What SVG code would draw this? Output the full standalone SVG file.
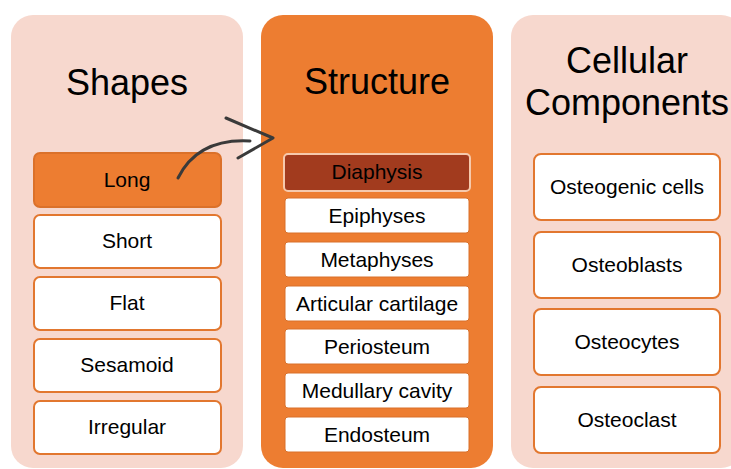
<svg xmlns="http://www.w3.org/2000/svg" width="731" height="469" viewBox="0 0 731 469">
  <style>
    .panel-light { fill: #F7D8CE; }
    .panel-dark { fill: #ED7D31; }
    .title { font-family: "Liberation Sans", Arial, sans-serif; font-size: 36px; fill: #000; text-anchor: middle; }
    .label { font-family: "Liberation Sans", Arial, sans-serif; font-size: 21px; fill: #000; text-anchor: middle; }
    .box { fill: #FFFFFF; stroke: #E2772F; stroke-width: 2; }
    .box-hi { fill: #ED7D31; stroke: #DB712A; stroke-width: 2; }
    .sbox { fill: #FFFFFF; stroke: #D9712B; stroke-width: 1; }
    .sbox-hi { fill: #A23B1E; stroke: #F6C9AC; stroke-width: 2; }
    .sketch { fill: none; stroke: #3A3A3A; stroke-width: 3; stroke-linecap: round; stroke-linejoin: round; }
  </style>
  <rect width="731" height="469" fill="#FFFFFF"/>

  <!-- Column: Shapes -->
  <g id="shapes">
    <rect class="panel-light" x="11" y="15" width="232" height="453" rx="22"/>
    <text class="title" x="127" y="95" font-size="34">Shapes</text>
  </g>
  <g id="shape-long"><rect class="box-hi" x="34" y="153" width="187" height="54" rx="6"/><text class="label" x="127" y="187">Long</text></g>
  <g id="shape-short"><rect class="box" x="34" y="215" width="187" height="53" rx="6"/><text class="label" x="127" y="248">Short</text></g>
  <g id="shape-flat"><rect class="box" x="34" y="277" width="187" height="53" rx="6"/><text class="label" x="127" y="310">Flat</text></g>
  <g id="shape-sesamoid"><rect class="box" x="34" y="339" width="187" height="53" rx="6"/><text class="label" x="127" y="372">Sesamoid</text></g>
  <g id="shape-irregular"><rect class="box" x="34" y="401" width="187" height="53" rx="6"/><text class="label" x="127" y="434">Irregular</text></g>

  <!-- Column: Structure -->
  <g id="structure">
    <rect class="panel-dark" x="261" y="15" width="232" height="453" rx="22"/>
    <text class="title" x="377" y="94">Structure</text>
  </g>
  <g id="st-diaphysis"><rect class="sbox-hi" x="284" y="154" width="186" height="37" rx="4"/><text class="label" x="377" y="179">Diaphysis</text></g>
  <g id="st-epiphyses"><rect class="sbox" x="285" y="198" width="184" height="35" rx="3"/><text class="label" x="377" y="223">Epiphyses</text></g>
  <g id="st-metaphyses"><rect class="sbox" x="285" y="242" width="184" height="35" rx="3"/><text class="label" x="377" y="267">Metaphyses</text></g>
  <g id="st-articular"><rect class="sbox" x="285" y="286" width="184" height="35" rx="3"/><text class="label" x="377" y="311">Articular cartilage</text></g>
  <g id="st-periosteum"><rect class="sbox" x="285" y="329" width="184" height="35" rx="3"/><text class="label" x="377" y="354">Periosteum</text></g>
  <g id="st-medullary"><rect class="sbox" x="285" y="373" width="184" height="35" rx="3"/><text class="label" x="377" y="398">Medullary cavity</text></g>
  <g id="st-endosteum"><rect class="sbox" x="285" y="417" width="184" height="35" rx="3"/><text class="label" x="377" y="442">Endosteum</text></g>

  <!-- Column: Cellular Components -->
  <g id="cellular">
    <rect class="panel-light" x="511" y="15" width="232" height="453" rx="22"/>
    <text class="title" x="627" y="73">Cellular</text>
    <text class="title" x="627" y="115">Components</text>
  </g>
  <g id="cell-osteogenic"><rect class="box" x="534" y="154" width="186" height="66" rx="7"/><text class="label" x="627" y="194">Osteogenic cells</text></g>
  <g id="cell-osteoblasts"><rect class="box" x="534" y="232" width="186" height="66" rx="7"/><text class="label" x="627" y="272">Osteoblasts</text></g>
  <g id="cell-osteocytes"><rect class="box" x="534" y="309" width="186" height="66" rx="7"/><text class="label" x="627" y="349">Osteocytes</text></g>
  <g id="cell-osteoclast"><rect class="box" x="534" y="387" width="186" height="66" rx="7"/><text class="label" x="627" y="427">Osteoclast</text></g>

  <!-- Connectors -->
  <g id="connectors">
    <path class="sketch" d="M178,178 Q198,138 250,141"/>
    <path class="sketch" stroke-width="2.5" d="M226,118 L273,138 L238,158"/>
  </g>
</svg>
